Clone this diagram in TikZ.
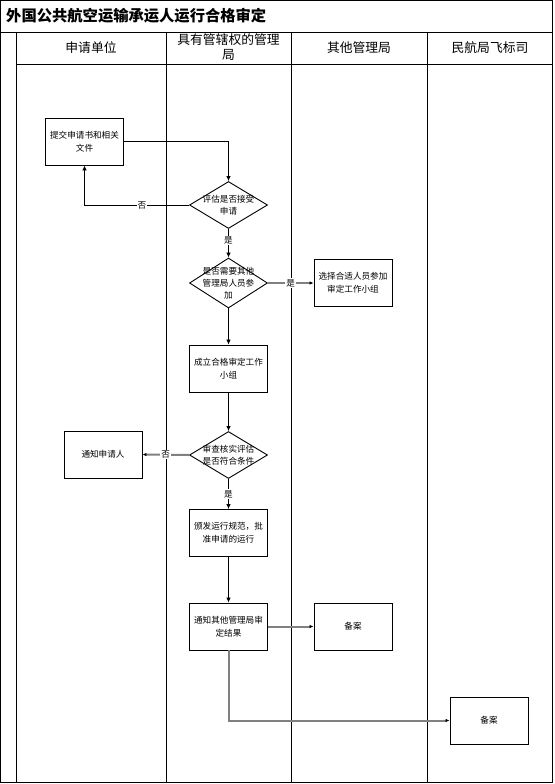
\documentclass[tikz,border=0pt]{standalone}
\usepackage{fontspec}
\setmainfont{Noto Sans CJK SC}
\usetikzlibrary{shapes.geometric,arrows.meta}
\begin{document}
\begin{tikzpicture}[x=1pt,y=-1pt,
  frame/.style={line width=0.9pt,draw=black},
  proc/.style={draw=black,line width=0.9pt,fill=white,inner sep=0pt,minimum width=78pt,minimum height=47pt,align=center,font=\fontsize{8.6}{13}\selectfont},
  dia/.style={draw=black,line width=0.9pt,fill=white,diamond,inner sep=0pt,minimum width=78pt,minimum height=47pt},
  dtext/.style={align=center,font=\fontsize{8.6}{12}\selectfont,inner sep=0pt},
  lab/.style={fill=white,inner sep=1pt,font=\fontsize{8.6}{10}\selectfont},
  blk/.style={draw=black,line width=0.8pt,-{Latex[length=5pt,width=4.5pt]}},
  gry/.style={draw=black!50,line width=2pt,-{Latex[length=4pt,width=3.5pt,color=black]}},
  hdr/.style={align=center,font=\fontsize{12.8}{15}\selectfont,inner sep=0pt}
]
\useasboundingbox (0,0) rectangle (554,784);
% frame
\draw[frame] (0.5,0.5) rectangle (552.5,782.5);
\draw[frame] (0.5,32) -- (552.5,32);
\draw[frame] (16,64) -- (552.5,64);
\draw[frame] (16,32) -- (16,782.5);
\draw[frame] (166,32) -- (166,782.5);
\draw[frame] (291,32) -- (291,782.5);
\draw[frame] (427,32) -- (427,782.5);
% title
\node[anchor=west,inner sep=0pt,font=\fontsize{15.3}{18}\selectfont\bfseries] (title) at (6,16) {外国公共航空运输承运人运行合格审定};
% headers
\node[hdr] (h1) at (91,48) {申请单位};
\node[hdr] (h2) at (228.5,47) {具有管辖权的管理\\局};
\node[hdr] (h3) at (359,48) {其他管理局};
\node[hdr] (h4) at (490,48) {民航局飞标司};
% nodes
\node[proc] (n1) at (84.5,141.5) {提交申请书和相关\\文件};
\node[dia] (d1) at (228.5,205) {};
\node[dtext] (d1t) at (d1) {评估是否接受\\申请};
\node[dia,minimum height=50pt] (d2) at (228.5,283) {};
\node[dtext] (d2t) at (d2) {是否需要其他\\管理局人员参\\加};
\node[proc] (n2) at (353,283) {选择合适人员参加\\审定工作小组};
\node[proc] (n3) at (228.5,368.5) {成立合格审定工作\\小组};
\node[dia] (d3) at (228.5,455) {};
\node[dtext] (d3t) at (d3) {审查核实评估\\是否符合条件};
\node[proc] (n4) at (103,454.5) {通知申请人};
\node[proc] (n5) at (228.5,533) {颁发运行规范，批\\准申请的运行};
\node[proc] (n6) at (228.5,626.5) {通知其他管理局审\\定结果};
\node[proc] (n7) at (353,626.5) {备案};
\node[proc] (n8) at (489,720.5) {备案};
% connectors
\draw[blk] (n1.east) -- (d1.north |- n1.east) -- (d1.north);
\draw[blk] (d1.west) -- (n1.south |- d1.west) node[lab,pos=0.45] {否} -- (n1.south);
\draw[blk] (d1.south) -- node[lab,pos=0.4] {是} (d2.north);
\draw[gry] (d2.east) -- node[lab,pos=0.5] {是} (n2.west);
\draw[blk] (d2.south) -- (n3.north);
\draw[blk] (n3.south) -- (d3.north);
\draw[gry] (d3.west) -- node[lab,pos=0.5] {否} (n4.east);
\draw[blk] (d3.south) -- node[lab,pos=0.5] {是} (n5.north);
\draw[blk] (n5.south) -- (n6.north);
\draw[gry] (n6.east) -- (n7.west);
\draw[gry] (n6.south) -- (n6.south |- n8.west) -- (n8.west);
\end{tikzpicture}
\end{document}
